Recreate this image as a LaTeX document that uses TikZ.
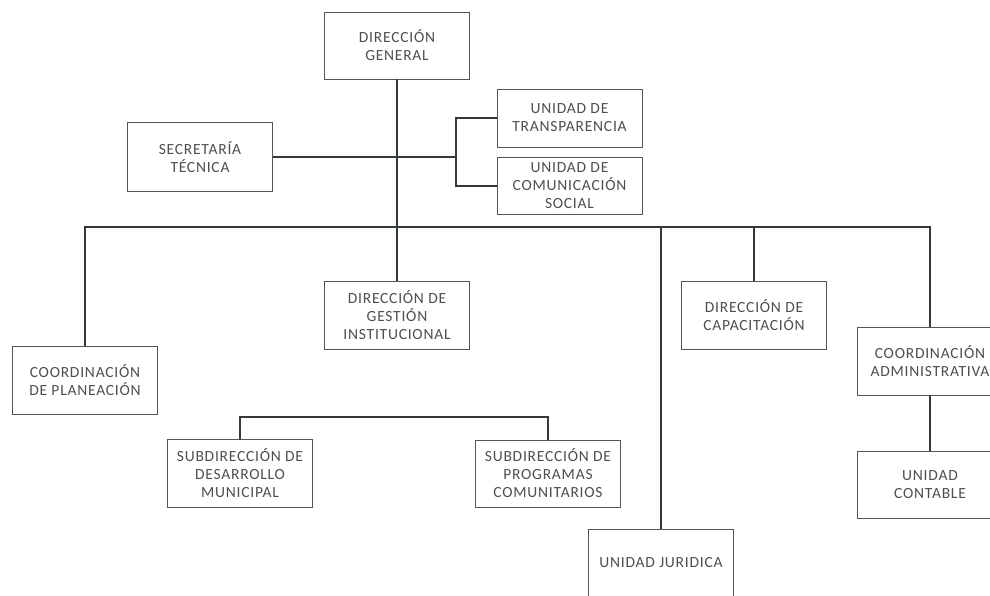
\documentclass[tikz,border=0pt]{standalone}
\usepackage{fontspec}
\setmainfont{Carlito}[LetterSpace=5]
\definecolor{textgray}{HTML}{4E4E4E}
\definecolor{linegray}{HTML}{33383B}
\begin{document}
\begin{tikzpicture}[
x=1pt, y=-1pt,
every node/.style={
draw=linegray!85,
line width=0.9pt,
minimum width=145pt,
minimum height=67pt,
inner sep=2pt,
align=center,
text=textgray,
font=\fontsize{15.5}{18}\selectfont
},
link/.style={draw=linegray, line width=1.8pt}
]
\useasboundingbox (0,0) rectangle (990,595);
\clip (0,0) rectangle (990,595);
% top level
\node (dg) at (397,45.5) {DIRECCIÓN\\GENERAL};
\node (sec) at (200,157) [minimum height=69pt] {SECRETARÍA\\TÉCNICA};
\node (transp) at (569.5,118) [minimum height=58pt] {UNIDAD DE\\TRANSPARENCIA};
\node (comsoc) at (569.5,186) [minimum height=57pt] {UNIDAD DE\\COMUNICACIÓN\\SOCIAL};
% second level
\node (plan) at (85,380) [minimum height=68pt] {COORDINACIÓN\\DE PLANEACIÓN};
\node (gest) at (397,315) [minimum height=68pt] {DIRECCIÓN DE\\GESTIÓN\\INSTITUCIONAL};
\node (jur) at (661,563) [minimum height=68pt] {UNIDAD JURIDICA};
\node (cap) at (754,315) [minimum height=68pt] {DIRECCIÓN DE\\CAPACITACIÓN};
\node (coadm) at (930,361) [minimum height=68pt] {COORDINACIÓN\\ADMINISTRATIVA};
% third level
\node (subdes) at (240,473) [minimum height=68pt] {SUBDIRECCIÓN DE\\DESARROLLO\\MUNICIPAL};
\node (subprog) at (548,473.5) [minimum height=67pt] {SUBDIRECCIÓN DE\\PROGRAMAS\\COMUNITARIOS};
\node (cont) at (930,484.5) [minimum height=67pt] {UNIDAD\\CONTABLE};
% junctions
\coordinate (bus) at (397,227);
\coordinate (staff) at (456,157);
\coordinate (subbus) at (397,417);
% connectors
\draw[link] (dg) -- (gest);
\draw[link] (sec) -- (staff);
\draw[link] (transp.west) -| (staff) |- (comsoc.west);
\draw[link] (plan.north) |- (bus) -| (coadm.north);
\draw[link] (jur.north) -- (jur.north |- bus);
\draw[link] (cap.north) -- (cap.north |- bus);
\draw[link] (subdes.north) |- (subbus) -| (subprog.north);
\draw[link] (coadm) -- (cont);
\end{tikzpicture}
\end{document}
